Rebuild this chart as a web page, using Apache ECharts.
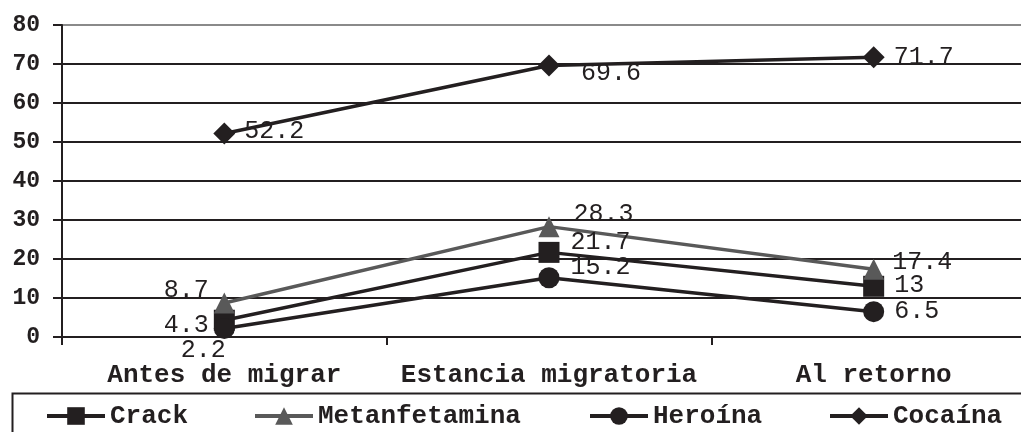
<!DOCTYPE html>
<html>
<head>
<meta charset="utf-8">
<script src="https://cdn.jsdelivr.net/npm/echarts@6/dist/echarts.min.js"></script>
<style>
html,body{margin:0;padding:0;background:#fff;overflow:hidden;}
#c{width:1040px;height:432px;}
</style>
</head>
<body>
<div id="c"></div>
<script>
const categories = ['Antes de migrar', 'Estancia migratoria', 'Al retorno'];
const crack = [4.3, 21.7, 13];
const metanfetamina = [8.7, 28.3, 17.4];
const heroina = [2.2, 15.2, 6.5];
const cocaina = [52.2, 69.6, 71.7];
const yTicks = [0, 10, 20, 30, 40, 50, 60, 70, 80];

const FONT = '"Liberation Mono", "Courier New", monospace';
const INK = '#231f20';

// label placement per point (style only)
const labelStyles = {
  crack: [{position:'left', offset:[0,5]}, {position:'right', offset:[6,-10]}, {position:'right', offset:[5,-1]}],
  met: [{position:'left', offset:[0,-13]}, {position:'right', offset:[9,-12]}, {position:'right', offset:[3,-7]}],
  her: [{position:'bottom', offset:[-21,-6]}, {position:'right', offset:[6,-10]}, {position:'right', offset:[5,0]}],
  coc: [{position:'right', offset:[4,-2]}, {position:'right', offset:[16,8]}, {position:'right', offset:[4,0]}]
};

function mk(vals, styles) {
  return vals.map((v, i) => ({ value: v, label: styles[i] }));
}

const baseLabel = { show: true, fontFamily: FONT, fontSize: 25, color: INK, fontWeight: 'normal', distance: 5 };

function series(name, vals, styles, symbol, size, color) {
  return {
    name: name, type: 'line', data: mk(vals, styles),
    symbol: symbol, symbolSize: size, showAllSymbol: true,
    lineStyle: { color: color, width: 3.5 },
    itemStyle: { color: color },
    label: baseLabel,
    emphasis: { disabled: true },
    animation: false
  };
}

const chart = echarts.init(document.getElementById('c'));
const legendCommon = {
  top: 403, itemWidth: 58, itemHeight: 22, itemGap: 0,
  lineStyle: { width: 4 },
  textStyle: { fontFamily: FONT, fontSize: 26, fontWeight: 'bold', color: INK },
  selectedMode: false, padding: 0
};
chart.setOption({
  animation: false,
  grid: { left: 62, top: 25, width: 974, height: 312, containLabel: false },
  xAxis: {
    type: 'category', data: categories, boundaryGap: true,
    axisLine: { lineStyle: { color: INK, width: 2 } },
    axisTick: { show: true, length: 8, lineStyle: { color: INK, width: 2 } },
    axisLabel: { fontFamily: FONT, fontSize: 26, fontWeight: 'bold', color: INK, margin: 25, interval: 0 }
  },
  yAxis: {
    type: 'value', min: yTicks[0], max: yTicks[yTicks.length-1], interval: 10,
    axisLine: { show: true, lineStyle: { color: INK, width: 2 } },
    axisTick: { show: true, length: 9, lineStyle: { color: INK, width: 2 } },
    axisLabel: { fontFamily: FONT, fontSize: 23, fontWeight: 'bold', color: INK, margin: 22 },
    splitLine: { show: true, lineStyle: { color: [INK, INK, INK, INK, INK, INK, INK, INK, '#8a8a8a'], width: 2 } }
  },
  legend: [
    Object.assign({ left: 45, data: ['Crack'] }, legendCommon),
    Object.assign({ left: 253, data: ['Metanfetamina'] }, legendCommon),
    Object.assign({ left: 588, data: ['Heroína'] }, legendCommon),
    Object.assign({ left: 828, data: ['Cocaína'] }, legendCommon)
  ],
  graphic: [{
    type: 'rect', left: 10, top: 391, silent: true,
    shape: { width: 1040, height: 60 },
    style: { fill: 'none', stroke: INK, lineWidth: 2 }
  }],
  series: [
    series('Crack', crack, labelStyles.crack, 'rect', 21, INK),
    series('Metanfetamina', metanfetamina, labelStyles.met, 'triangle', 21, '#595959'),
    series('Heroína', heroina, labelStyles.her, 'circle', 21, INK),
    series('Cocaína', cocaina, labelStyles.coc, 'diamond', 22, INK)
  ]
});
</script>
</body>
</html>
